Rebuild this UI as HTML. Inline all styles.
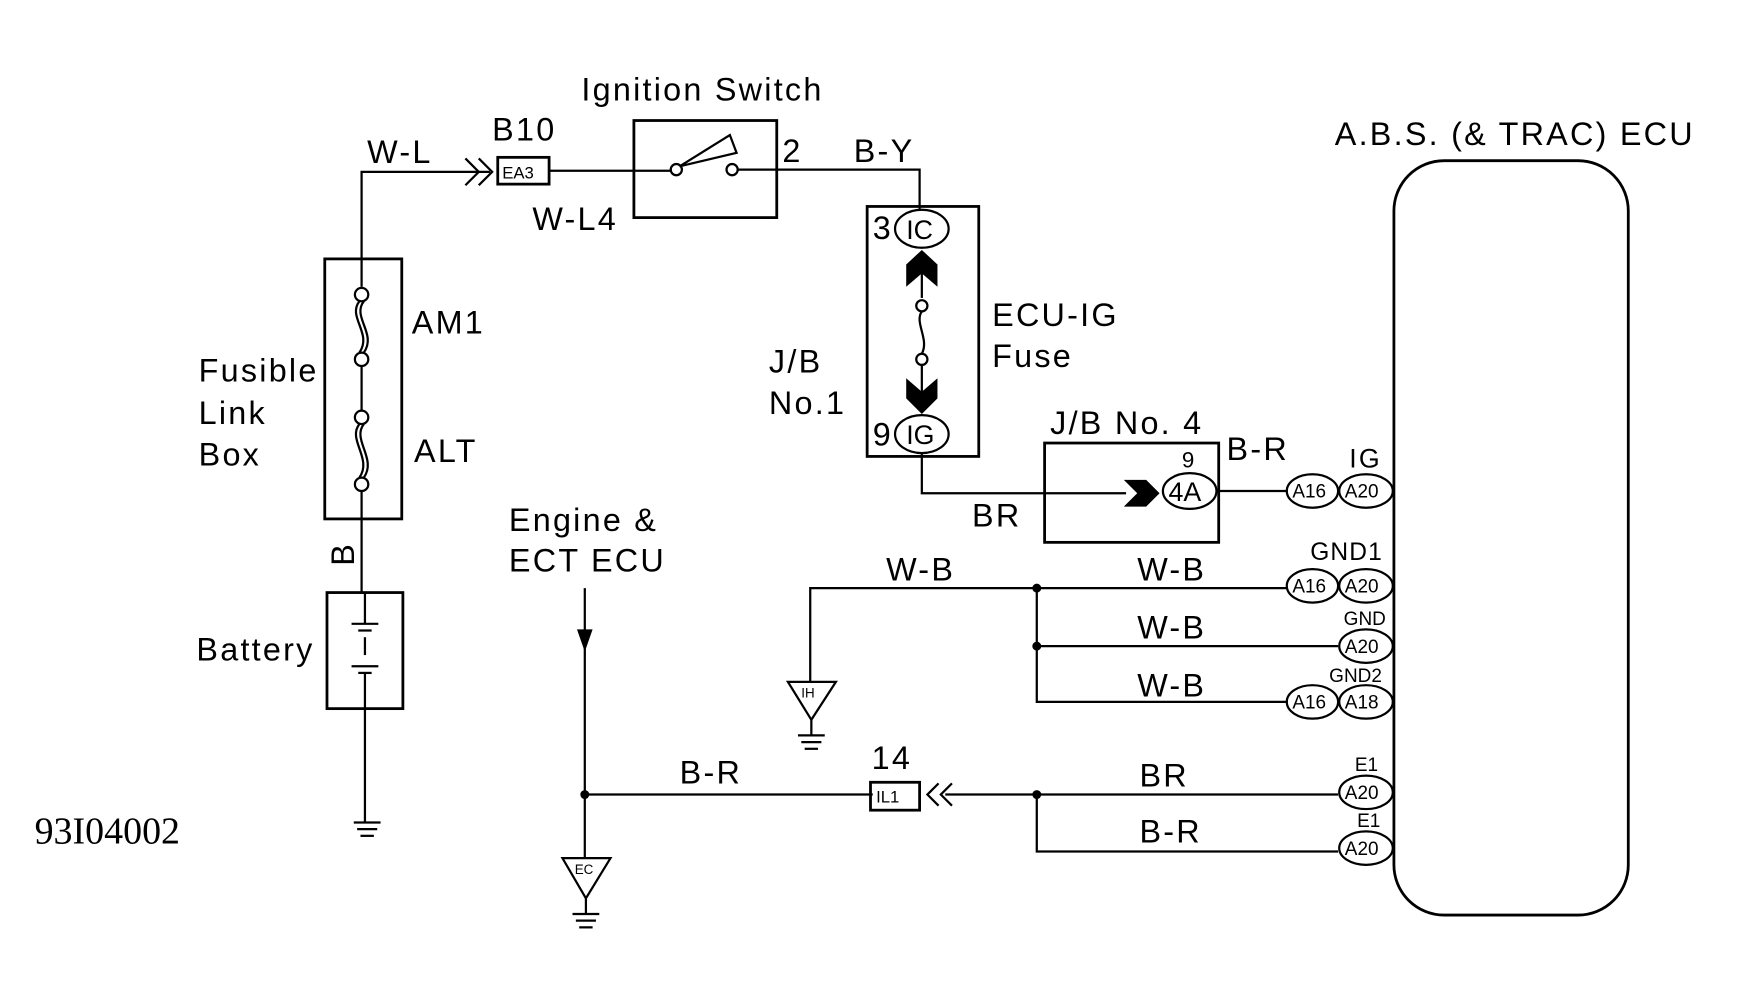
<!DOCTYPE html>
<html><head><style>
html,body{margin:0;padding:0;background:#fff;}
svg{display:block;}
text{font-family:"Liberation Sans",sans-serif;fill:#000;}
.big text{letter-spacing:2px;}
</style></head><body>
<svg width="1741" height="1001" viewBox="1 1 1560 897" preserveAspectRatio="none" xmlns="http://www.w3.org/2000/svg">
<g fill="none" stroke="#000" stroke-width="2">
<polyline points="325,233 325,155 440,155"/>
<polyline points="418,143 430,155 418,167"/><polyline points="430,143 442,155 430,167"/>
<rect x="447" y="142" width="46" height="24" stroke-width="2.5"/>
<line x1="493" y1="154" x2="603" y2="154"/>
<rect x="569" y="109" width="128" height="87" stroke-width="2.5"/>
<circle cx="607" cy="153" r="5"/><circle cx="657" cy="153" r="5"/>
<polygon points="610,150 655,122 661,138"/>
<polyline points="662,153 825,153 825,190"/>
<rect x="778" y="186" width="100" height="224" stroke-width="2.5"/>
<ellipse cx="827" cy="206" rx="24" ry="17"/>
<ellipse cx="827" cy="390" rx="24" ry="17"/>
<line x1="827" y1="240" x2="827" y2="268"/>
<circle cx="827" cy="275" r="5"/><circle cx="827" cy="323" r="5"/>
<path d="M827,280 C820,290 834,305 827,318"/>
<line x1="827" y1="328" x2="827" y2="360"/>
<polyline points="827,407 827,443 1010,443"/>
<rect x="937" y="398" width="156" height="89" stroke-width="2.5"/>
<ellipse cx="1067" cy="441" rx="24" ry="16"/>
<line x1="1093" y1="441" x2="1155" y2="441"/>
<ellipse cx="1177" cy="441" rx="23" ry="15"/><ellipse cx="1225" cy="441" rx="24" ry="15"/>
<rect x="292" y="233" width="69" height="233" stroke-width="2.5"/>
<line x1="325" y1="233" x2="325" y2="258"/>
<circle cx="325" cy="265" r="6"/><circle cx="325" cy="323" r="6"/>
<path d="M323,271 C312,285 335,300 323,317 M327,271 C316,285 339,300 327,317"/>
<line x1="325" y1="329" x2="325" y2="369"/>
<circle cx="325" cy="375" r="6"/><circle cx="325" cy="435" r="6"/>
<path d="M323,381 C312,395 335,412 323,429 M327,381 C316,395 339,412 327,429"/>
<line x1="325" y1="441" x2="325" y2="532"/>
<rect x="294" y="532" width="68" height="104" stroke-width="2.5"/>
<line x1="328" y1="532" x2="328" y2="560"/><line x1="316" y1="560" x2="340" y2="560"/><line x1="322" y1="566" x2="334" y2="566"/>
<line x1="328" y1="572" x2="328" y2="588"/>
<line x1="316" y1="598" x2="340" y2="598"/><line x1="322" y1="604" x2="334" y2="604"/>
<line x1="328" y1="604" x2="328" y2="636"/>
<line x1="328" y1="636" x2="328" y2="738"/>
<line x1="318" y1="738" x2="342" y2="738"/><line x1="321" y1="744" x2="339" y2="744"/><line x1="324" y1="750" x2="336" y2="750"/>
<line x1="525" y1="528" x2="525" y2="770"/>
<line x1="525" y1="713" x2="783" y2="713"/>
<rect x="781" y="702" width="44" height="25" stroke-width="2.5"/>
<polyline points="842,703 832,713 842,723"/><polyline points="854,703 844,713 854,723"/>
<line x1="848" y1="713" x2="1200" y2="713"/>
<polyline points="930,713 930,764 1200,764"/>
<ellipse cx="1225" cy="711" rx="24" ry="15"/><ellipse cx="1225" cy="761" rx="24" ry="15"/>
<polygon points="505,770 548,770 526,806"/>
<line x1="526" y1="806" x2="526" y2="820"/>
<line x1="514" y1="820" x2="538" y2="820"/><line x1="517" y1="826" x2="535" y2="826"/><line x1="520" y1="832" x2="532" y2="832"/>
<polyline points="727,612 727,528 1155,528"/>
<polyline points="930,528 930,630 1155,630"/>
<line x1="930" y1="580" x2="1200" y2="580"/>
<ellipse cx="1177" cy="526" rx="23" ry="15"/><ellipse cx="1225" cy="526" rx="24" ry="15"/>
<ellipse cx="1225" cy="580" rx="24" ry="15"/>
<ellipse cx="1177" cy="630" rx="23" ry="15"/><ellipse cx="1225" cy="630" rx="24" ry="15"/>
<polygon points="707,612 750,612 728,646"/>
<line x1="728" y1="646" x2="728" y2="660"/>
<line x1="716" y1="660" x2="740" y2="660"/><line x1="719" y1="666" x2="737" y2="666"/><line x1="722" y1="672" x2="734" y2="672"/>
<rect x="1250" y="145" width="210" height="676" rx="45" ry="45" stroke-width="2.5"/>
</g>
<g fill="#000">
<polygon points="827,225 841,238 841,258 827,246 813,258 813,238"/>
<polygon points="827,372 841,358 841,340 827,352 813,340 813,358"/>
<polygon points="1040,443 1028,431 1008,431 1020,443 1008,455 1028,455"/>
<polygon points="518,565 532,565 525,585"/>
<circle cx="525" cy="713" r="4"/><circle cx="930" cy="713" r="4"/>
<circle cx="930" cy="528" r="4"/><circle cx="930" cy="580" r="4"/>
</g>
<g font-size="29" class="big">
<text x="522" y="91">Ignition Switch</text>
<text x="330" y="147">W-L</text>
<text x="442" y="127">B10</text>
<text x="478" y="207">W-L4</text>
<text x="702" y="146">2</text>
<text x="766" y="146">B-Y</text>
<text x="783" y="215">3</text>
<text x="783" y="400">9</text>
<text x="890" y="293">ECU-IG</text>
<text x="890" y="330">Fuse</text>
<text x="690" y="335">J/B</text>
<text x="690" y="372">No.1</text>
<text x="942" y="390">J/B No. 4</text>
<text x="1100" y="413">B-R</text>
<text x="872" y="473">BR</text>
<text x="370" y="300">AM1</text>
<text x="372" y="415">ALT</text>
<text x="179" y="343">Fusible</text>
<text x="179" y="381">Link</text>
<text x="179" y="418">Box</text>
<text x="177" y="593">Battery</text>
<text x="457" y="477">Engine &amp;</text>
<text x="457" y="513">ECT ECU</text>
<text x="610" y="703">B-R</text>
<text x="782" y="690">14</text>
<text x="1022" y="706">BR</text>
<text x="1022" y="756">B-R</text>
<text x="795" y="521">W-B</text>
<text x="1020" y="521">W-B</text>
<text x="1020" y="573">W-B</text>
<text x="1020" y="625">W-B</text>
<text x="1197" y="131">A.B.S. (&amp; TRAC) ECU</text>
<text transform="translate(318,508) rotate(-90)">B</text>
</g>
<g font-size="24">
<text x="813" y="215">IC</text>
<text x="813" y="399">IG</text>
<text x="1048" y="450">4A</text>
<text x="1060" y="420" font-size="20">9</text>
<text x="1210" y="420" letter-spacing="2">IG</text>
<text x="1175" y="503" font-size="22" letter-spacing="1">GND1</text>
</g>
<g font-size="17">
<text x="1159" y="447">A16</text><text x="1206" y="447">A20</text>
<text x="1159" y="532">A16</text><text x="1206" y="532">A20</text>
<text x="1206" y="586">A20</text>
<text x="1159" y="636">A16</text><text x="1206" y="636">A18</text>
<text x="1206" y="717">A20</text><text x="1206" y="767">A20</text>
<text x="1205" y="561">GND</text>
<text x="1192" y="612">GND2</text>
<text x="1215" y="692">E1</text>
<text x="1217" y="742">E1</text>
<text x="451" y="161" font-size="15">EA3</text>
<text x="786" y="720" font-size="15">IL1</text>
<text x="516" y="784" font-size="12">EC</text>
<text x="719" y="626" font-size="12">IH</text>
</g>
<text x="32" y="757" font-size="34" style="font-family:'Liberation Serif',serif">93I04002</text>
</svg>
</body></html>
